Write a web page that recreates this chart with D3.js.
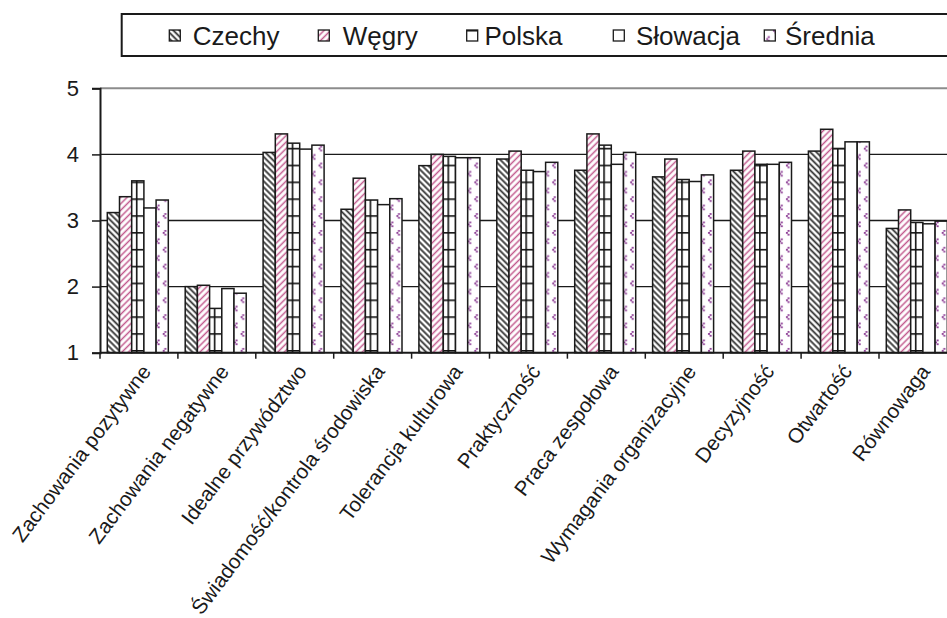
<!DOCTYPE html>
<html>
<head>
<meta charset="utf-8">
<script src="https://cdn.jsdelivr.net/npm/d3@7"></script>
<style>
  html, body { margin: 0; padding: 0; background: #fff; }
  svg { display: block; font-family: "Liberation Sans", Arial, sans-serif; }
</style>
</head>
<body>
<svg id="chart" width="947" height="618"></svg>
<script>
// Categories (x axis) and series
const categories = [
  "Zachowania pozytywne", "Zachowania negatywne", "Idealne przywództwo",
  "Świadomość/kontrola środowiska", "Tolerancja kulturowa", "Praktyczność",
  "Praca zespołowa", "Wymagania organizacyjne", "Decyzyjność", "Otwartość", "Równowaga"
];
const seriesNames = ["Czechy", "Węgry", "Polska", "Słowacja", "Średnia"];

const czechy   = [3.12, 2.00, 4.03, 3.17, 3.83, 3.93, 3.76, 3.66, 3.76, 4.05, 2.88];
const wegry    = [3.36, 2.02, 4.31, 3.64, 4.00, 4.05, 4.31, 3.93, 4.05, 4.38, 3.16];
const polska   = [3.60, 1.67, 4.17, 3.31, 3.97, 3.76, 4.14, 3.62, 3.85, 4.09, 2.97];
const slowacja = [3.19, 1.97, 4.08, 3.24, 3.95, 3.74, 3.85, 3.59, 3.85, 4.19, 2.95];
const srednia  = [3.31, 1.90, 4.14, 3.33, 3.95, 3.88, 4.03, 3.69, 3.88, 4.19, 2.99];

const yTicks = [1, 2, 3, 4, 5];

const seriesValues = [czechy, wegry, polska, slowacja, srednia];

const svg = d3.select("#chart");
const defs = svg.append("defs");

// ---- fill patterns ----
function stripes(id, color, spacing, width, angle) {
  const p = defs.append("pattern")
    .attr("id", id)
    .attr("patternUnits", "userSpaceOnUse")
    .attr("width", spacing).attr("height", 10)
    .attr("patternTransform", `rotate(${angle})`);
  p.append("rect").attr("width", spacing).attr("height", 10).attr("fill", "#fff");
  p.append("line").attr("x1", spacing / 2).attr("x2", spacing / 2)
    .attr("y1", 0).attr("y2", 10)
    .attr("stroke", color).attr("stroke-width", width);
}
stripes("pat-czechy", "#333", 4.3, 1.8, -45);
stripes("pat-wegry", "#c25a8e", 4.6, 1.5, 45);

// large grid
const gridW = 16.44, gridH = 16.85;
const pg = defs.append("pattern")
  .attr("id", "pat-polska")
  .attr("patternUnits", "userSpaceOnUse")
  .attr("x", 3.0).attr("y", 13)
  .attr("width", gridW).attr("height", gridH);
pg.append("rect").attr("width", gridW).attr("height", gridH).attr("fill", "#fff");
pg.append("line").attr("x1", 0).attr("x2", gridW).attr("y1", 0).attr("y2", 0)
  .attr("stroke", "#111").attr("stroke-width", 3.2);
pg.append("line").attr("x1", 0).attr("x2", 0).attr("y1", 0).attr("y2", gridH)
  .attr("stroke", "#111").attr("stroke-width", 3.2);

// sparse purple dots
const dotW = 13.4, dotH = 16.85;
const pd = defs.append("pattern")
  .attr("id", "pat-srednia")
  .attr("patternUnits", "userSpaceOnUse")
  .attr("x", 1.5).attr("y", 2)
  .attr("width", dotW).attr("height", dotH);
pd.append("rect").attr("width", dotW).attr("height", dotH).attr("fill", "#fff");
[[2.5, 2.5], [2.5 + dotW / 2, 2.5 + dotH / 2]].forEach(([cx, cy]) => {
  pd.append("rect").attr("x", cx).attr("y", cy - 2).attr("width", 2).attr("height", 1.8).attr("fill", "#8e3f96");
  pd.append("rect").attr("x", cx - 1.6).attr("y", cy).attr("width", 2).attr("height", 1.8).attr("fill", "#8e3f96");
  pd.append("rect").attr("x", cx).attr("y", cy + 1.8).attr("width", 2).attr("height", 1.8).attr("fill", "#8e3f96");
});

const fills = ["url(#pat-czechy)", "url(#pat-wegry)", "url(#pat-polska)", "#fff", "url(#pat-srednia)"];

// ---- scales ----
const plotLeft = 100, step = 77.9;
const plotRight = plotLeft + step * categories.length;
const x0 = d3.scaleBand().domain(categories).range([plotLeft, plotRight]).padding(0);
const x1 = d3.scaleBand().domain(seriesNames).range([7.3, 68.3]).padding(0);
const y = d3.scaleLinear().domain([1, 5]).range([352.7, 88.3]);

// ---- gridlines ----
const grid = svg.append("g");
grid.selectAll("line").data(yTicks.filter(t => t > 1)).join("line")
  .attr("x1", plotLeft).attr("x2", plotRight)
  .attr("y1", d => y(d)).attr("y2", d => y(d))
  .attr("stroke", d => d === 5 ? "#8c8c8c" : "#1a1a1a")
  .attr("stroke-width", d => d === 5 ? 2 : 1.4);

// ---- bars ----
const groups = svg.append("g").selectAll("g").data(categories).join("g")
  .attr("transform", d => `translate(${x0(d)},0)`);
groups.selectAll("rect")
  .data((c, ci) => seriesNames.map((s, si) => ({ s, si, v: seriesValues[si][ci] })))
  .join("rect")
  .attr("x", d => x1(d.s))
  .attr("width", x1.bandwidth())
  .attr("y", d => y(d.v))
  .attr("height", d => y(1) - y(d.v))
  .attr("fill", d => fills[d.si])
  .attr("stroke", "#1a1a1a")
  .attr("stroke-width", 1.5);

// ---- axes ----
const yAxis = svg.append("g").attr("transform", `translate(${plotLeft},0)`)
  .call(d3.axisLeft(y).tickValues(yTicks).tickFormat(d3.format("d")).tickSize(8).tickPadding(13));
yAxis.select(".domain").attr("stroke", "#1a1a1a").attr("stroke-width", 2);
yAxis.selectAll(".tick line").attr("stroke", "#1a1a1a").attr("stroke-width", 1.5);
yAxis.selectAll(".tick text").attr("font-size", 22).attr("fill", "#1a1a1a")
  .attr("font-family", "Liberation Sans, Arial, sans-serif");

const xAxisG = svg.append("g").attr("transform", `translate(0,${y(1)})`);
xAxisG.append("line").attr("x1", plotLeft).attr("x2", plotRight)
  .attr("stroke", "#1a1a1a").attr("stroke-width", 2);
xAxisG.selectAll("line.tk").data(d3.range(categories.length + 1)).join("line")
  .attr("class", "tk")
  .attr("x1", i => plotLeft + i * step).attr("x2", i => plotLeft + i * step)
  .attr("y1", 0).attr("y2", 6)
  .attr("stroke", "#1a1a1a").attr("stroke-width", 1.5);
xAxisG.selectAll("text").data(categories).join("text")
  .attr("transform", d => `translate(${x0(d) + x0.bandwidth() / 2 + 13},19) rotate(-53)`)
  .attr("text-anchor", "end")
  .attr("font-size", 20.7)
  .attr("fill", "#1a1a1a")
  .text(d => d);

// ---- legend ----
const legendX = [169.3, 318.3, 466.7, 613.3, 764.3];
const legendTextX = [192.7, 342.7, 484.5, 636, 785];
const leg = svg.append("g");
leg.append("rect").attr("x", 121.7).attr("y", 14).attr("width", 860).attr("height", 42)
  .attr("fill", "#fff").attr("stroke", "#1a1a1a").attr("stroke-width", 2);
seriesNames.forEach((s, i) => {
  leg.append("rect").attr("x", legendX[i]).attr("y", 30).attr("width", 11).attr("height", 11)
    .attr("fill", fills[i]).attr("stroke", "#1a1a1a").attr("stroke-width", 1.3);
  leg.append("text").attr("x", legendTextX[i]).attr("y", 45)
    .attr("font-size", 26).attr("fill", "#1a1a1a").text(s);
});
</script>
</body>
</html>
